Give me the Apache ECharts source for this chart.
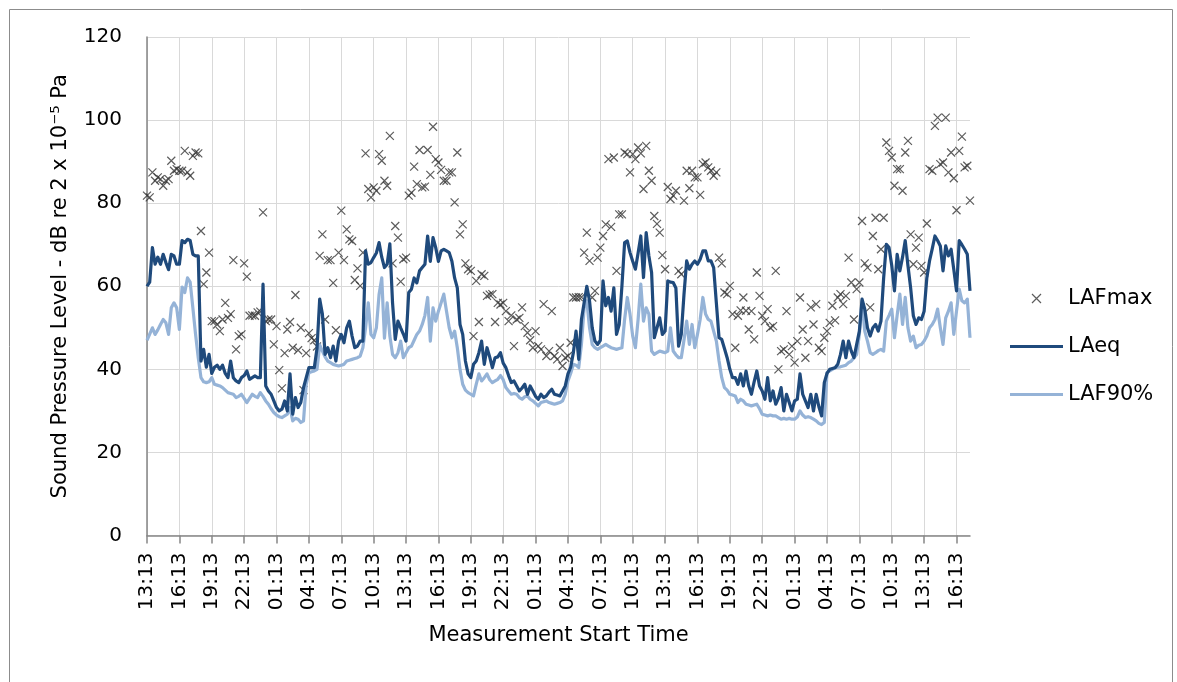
<!DOCTYPE html>
<html><head><meta charset="utf-8">
<script src="https://cdn.jsdelivr.net/npm/echarts@6/dist/echarts.min.js"></script>
<style>html,body{margin:0;padding:0;background:#fff}#c{width:1177px;height:682px}</style>
</head><body><div id="c"></div>
<script>
// Measurement start (first category) and logging step
const startTime = '13:13';
const stepMinutes = 15;

const seriesNames = ['LAFmax', 'LAeq', 'LAF90%'];

const laeq = [
  60, 61, 69.3, 65.3, 67, 65.3, 67.7, 65.7, 64, 67.7, 67.3, 65.3,
  65.3, 71, 70.5, 71.3, 71, 67.7, 67.3, 67.3, 42, 44.8, 40.5, 43.6,
  39, 40.5, 41, 40, 41, 39, 38, 42, 38, 37.2, 36.8, 38,
  38.5, 39.6, 37.6, 38, 38.4, 38, 38, 60.5, 36, 34.8, 34, 32.4,
  30.8, 30, 30.4, 32.4, 30, 38.9, 29.2, 33.2, 30.8, 32, 35.6, 38,
  40.4, 40.4, 40.4, 45, 56.9, 53.3, 43.6, 45.2, 42.8, 45.6, 42, 46.8,
  48.4, 46.4, 50, 51.6, 48, 45.2, 45.6, 46.8, 46.8, 68.5, 65.3, 65.7,
  66.9, 68, 70.5, 67, 64.5, 65.3, 70.2, 56, 47.2, 51.6, 50, 48.5,
  46.8, 58.5, 59.3, 62, 60.8, 63.7, 64.5, 65.3, 72.1, 66, 71.7, 69.3,
  66, 68.5, 68.9, 68.5, 68.1, 66, 62, 59.6, 50.8, 48.4, 42, 38.9,
  38, 41.2, 42, 44, 46.8, 41.2, 45.2, 43, 40.4, 42.8, 43, 44,
  41.5, 40.4, 38.5, 36.8, 37.2, 36, 34.8, 35.5, 36.4, 34, 36, 34.8,
  33.5, 32.8, 34, 33.2, 33.6, 34.5, 35.2, 34, 33.8, 33.6, 34.8, 36,
  38.9, 40.5, 44, 49.2, 42.4, 52, 56, 60, 56.5, 50, 46.8, 46,
  47, 61.3, 55.3, 57.3, 54, 59.6, 48.4, 50.8, 60, 70.5, 70.9, 68.1,
  66, 64.1, 68, 72.1, 62.1, 72.9, 67.3, 63.3, 47.6, 50, 52.4, 48.4,
  49.2, 61.3, 61, 60.9, 59.6, 45.6, 48.4, 58, 66.1, 64.1, 65.3, 66.1,
  65.3, 66.5, 68.5, 68.5, 66.1, 66.1, 64.5, 56, 47.6, 47.2, 45, 42.8,
  40, 38, 38, 36.4, 38.9, 36, 39.6, 36, 34, 37, 39.6, 36,
  34.8, 32.8, 38, 32.4, 34.8, 31.6, 33, 35.6, 30, 34, 32, 30,
  32.4, 32.8, 38.9, 34, 32.4, 30.8, 34, 30, 34, 31, 28.8, 36.8,
  39, 40, 40.2, 40.4, 41.2, 43.6, 46.8, 42.8, 46.8, 44.4, 42.8, 46,
  49.2, 56.9, 54.5, 50, 48, 50, 50.8, 49.2, 51.6, 62, 70.1, 69.3,
  65, 58.9, 67.7, 63.7, 67, 71, 65, 59.6, 52.9, 50.8, 52.4, 52,
  54, 62, 66.1, 69, 72.1, 71, 69.7, 63.7, 69.7, 67.3, 68.9, 64,
  58.9, 71, 70, 68.9, 67.7, 58.9
];

const laf90 = [
  47, 48.5, 50, 48.4, 49.5, 50.8, 52, 51.2, 48.4, 54.8, 56, 54.8,
  49.6, 59.8, 58.5, 62, 61, 54.8, 48.4, 42.8, 38, 37, 36.8, 37,
  38, 36.4, 36.2, 36, 35.6, 35, 34.4, 34.2, 34, 33.2, 33.5, 34,
  33, 32, 33, 34, 33.5, 33.2, 34.4, 33.5, 32.4, 31.6, 30.5, 29.6,
  29, 28.6, 28.4, 28.8, 29.2, 30.8, 27.6, 28.2, 28, 27.2, 27.6, 36.4,
  39.2, 39.4, 39.6, 40, 45.9, 44.4, 43, 42, 41.6, 41.2, 41, 40.8,
  41, 41.2, 42, 42.2, 42.4, 42.6, 42.8, 43.2, 45.2, 50, 56, 48.4,
  47.6, 50, 58, 62, 47.5, 56, 48, 43.6, 42.8, 44, 46.8, 42.8,
  44, 45.2, 45.6, 47, 48.4, 49.2, 50.8, 53, 57.3, 46.8, 54.8, 51.6,
  54, 56, 58.1, 54, 50, 47.6, 49.2, 45.2, 40, 36.4, 35, 34.4,
  34, 33.6, 36.4, 38.9, 37.2, 38, 38.9, 37.5, 36.8, 37.2, 37.6, 38.5,
  37.5, 35.6, 34.8, 34, 34.2, 34, 33.2, 32.8, 33.4, 33.6, 32.8, 32.4,
  31.8, 31.2, 32, 32.2, 32.4, 32, 31.8, 31.6, 31.8, 32, 32.4, 34,
  37.2, 39, 41.2, 41, 40.4, 46, 54.8, 56.5, 50, 46, 45.2, 44.8,
  45.2, 45.6, 46, 45.6, 45.2, 45, 44.8, 45, 45.2, 52, 57.3, 53.3,
  48, 45.2, 52, 60.5, 51.6, 54.8, 53.3, 44.4, 43.6, 44, 44.4, 44.2,
  44, 44.4, 50, 44.4, 43.5, 42.8, 42.8, 47, 51.6, 46, 50.8, 45.2,
  48.4, 52, 57.3, 53.3, 52, 51.6, 49.2, 46.8, 42, 38, 35.6, 35,
  34, 33.8, 33.6, 32, 32.8, 32.4, 31.6, 31.4, 31.2, 31.4, 31.6, 30.5,
  29.2, 29, 28.8, 29, 28.8, 28.8, 28.4, 28, 28.2, 28, 28.2, 28,
  28, 28.5, 30, 29, 28.4, 28.6, 28.4, 28, 27.6, 27, 26.7, 27.2,
  39.2, 39.6, 40, 40.4, 40.5, 40.6, 40.8, 41, 41.6, 42, 42.8, 43.6,
  48.4, 56.5, 49.2, 46.8, 44, 43.6, 44, 44.5, 44.8, 44.4, 51.6, 53,
  54.5, 47.6, 53, 58.1, 50.8, 57.3, 50, 46.8, 48, 45.2, 45.8, 46,
  46.8, 48, 50, 50.8, 52, 54.5, 50, 46, 52.4, 54, 56, 48.4,
  54, 59.3, 56.5, 56, 56.9, 47.6
];

const lafmax = [
  81.8, 81.4, 87.4, 85.4, 86.2, 85.8, 84.2, 85.4, 85.8, 90.2, 87.8, 88.2,
  87.8, 87.8, 92.6, 87.4, 86.6, 91.4, 92.2, 92, 73.3, 60.5, 63.3, 68.1,
  51.6, 51.6, 50.8, 49.2, 52, 56, 52.4, 53.3, 66.3, 44.8, 48, 48.4,
  65.5, 62.3, 52.9, 53, 52.9, 53.7, 53.9, 77.8, 51.6, 52, 52, 46,
  50.4, 39.8, 35.4, 43.9, 49.6, 51.4, 45.2, 57.9, 44.6, 50, 35, 43.9,
  48.7, 47.5, 47, 45.5, 67.3, 72.5, 52, 66.3, 66.3, 60.8, 49.4, 68.1,
  78.2, 66.3, 73.7, 71.3, 70.9, 61.5, 64.3, 60.1, 68.1, 92, 83.4, 81.4,
  83.8, 83, 91.8, 90.2, 85.4, 84.2, 96.2, 65.5, 74.5, 71.7, 61.1, 66.5,
  66.9, 81.8, 82.5, 88.8, 84.6, 92.8, 83.8, 84, 92.8, 86.8, 98.4, 90.6,
  89.8, 88, 85.4, 85.4, 87.4, 87.4, 80.2, 92.2, 72.5, 74.9, 65.5, 64.1,
  63.7, 48, 61.3, 51.4, 62.9, 62.5, 57.7, 58, 58.1, 51.4, 56, 55.6,
  56, 54, 51.6, 53, 45.6, 52, 52.4, 54.9, 50.4, 48.8, 47, 45.2,
  49.2, 45.6, 44.8, 55.7, 43.2, 44.4, 54, 43.2, 42.4, 45.2, 40.8, 42.8,
  43.2, 46.4, 57.3, 57.3, 57.4, 57.4, 68.1, 72.9, 66.1, 57.3, 58.9, 66.9,
  69.3, 72.1, 74.9, 90.6, 74.3, 91, 63.7, 77.3, 77.3, 92.2, 91.8, 87.4,
  91.8, 90.6, 93.4, 92, 83.4, 93.8, 87.8, 85.4, 76.9, 75, 72.9, 67.5,
  64.1, 83.9, 81, 81.8, 83, 63.7, 62.9, 80.6, 87.8, 83.6, 87.8, 86.2,
  86.2, 82, 89.4, 89.8, 88.6, 87.8, 86.6, 87.4, 66.9, 65.5, 58.5, 58.1,
  60.1, 53.3, 45.2, 52.9, 54.2, 57.3, 54.1, 49.6, 54, 47.2, 63.3, 57.7,
  52.9, 51.6, 54.5, 50, 50.4, 63.7, 40, 44.4, 44.8, 54, 43.6, 45.6,
  41.6, 46.8, 57.3, 49.6, 42.8, 46.8, 54.9, 50.8, 55.7, 45.2, 44.4, 47.6,
  49.2, 51.2, 55.3, 51.8, 57.3, 58.1, 55.7, 57.7, 66.9, 60.9, 52, 59.3,
  60.9, 75.7, 65.5, 64.5, 54.9, 72.1, 76.5, 64.1, 68.9, 76.5, 94.6, 92.6,
  91, 84.2, 88.2, 88.2, 83, 92.2, 95, 72.5, 65.3, 69.3, 71.7, 64.9,
  63.3, 75.1, 88.2, 87.8, 98.6, 100.6, 89.4, 89.8, 100.6, 87.4, 92.2, 86,
  78.3, 92.6, 96, 88.6, 89, 80.6
];

// category labels: one per logging interval (HH:MM)
function pad(n) { return (n < 10 ? '0' : '') + n; }
const startMin = parseInt(startTime.slice(0, 2)) * 60 + parseInt(startTime.slice(3));
const categories = laeq.map(function (_, i) {
  const t = startMin + i * stepMinutes;
  return pad(Math.floor(t / 60) % 24) + ':' + pad(t % 60);
});

const FONT = '"DejaVu Sans", Verdana, sans-serif';
const AXIS_COLOR = '#868686';
const GRID_COLOR = '#d9d9d9';
const DARK = '#1F4A7C';
const LIGHT = '#95B3D7';
const CROSS = 'path://M0,0L10,10M10,0L0,10';
const BAR_ICON = 'path://M0,0H53V3.2H0Z';

const chart = echarts.init(document.getElementById('c'), null, { renderer: 'canvas' });
chart.setOption({
  animation: false,
  backgroundColor: '#ffffff',
  textStyle: { fontFamily: FONT },
  graphic: [{
    type: 'rect', left: 7, top: 7, silent: true,
    shape: { width: 1163, height: 700 },
    style: { fill: 'none', stroke: '#8c8c8c', lineWidth: 1 }
  }],
  grid: { left: 147, right: 207, top: 37, bottom: 146.5 },
  legend: {
    orient: 'vertical', left: 1010, top: 288, padding: 0,
    itemWidth: 53, itemHeight: 9, itemGap: 27,
    textStyle: { fontSize: 21, color: '#000', fontFamily: FONT },
    data: [
      { name: 'LAFmax', icon: CROSS, itemStyle: { color: 'transparent', borderColor: '#333333', borderWidth: 1.2 } },
      { name: 'LAeq', icon: BAR_ICON, itemStyle: { color: DARK, borderWidth: 0 } },
      { name: 'LAF90%', icon: BAR_ICON, itemStyle: { color: LIGHT, borderWidth: 0 } }
    ]
  },
  xAxis: {
    type: 'category', data: categories, boundaryGap: false,
    name: 'Measurement Start Time', nameLocation: 'middle', nameGap: 90,
    nameTextStyle: { fontSize: 21, color: '#000', fontFamily: FONT },
    axisLine: { lineStyle: { color: AXIS_COLOR, width: 1.5 } },
    axisTick: { show: true, interval: 11, length: 8, lineStyle: { color: AXIS_COLOR, width: 1.5 } },
    axisLabel: { interval: 11, rotate: 90, fontSize: 20, color: '#000', margin: 17, fontFamily: FONT },
    splitLine: { show: true, interval: 11, lineStyle: { color: GRID_COLOR, width: 1 } }
  },
  yAxis: {
    type: 'value', min: 0, max: 120, interval: 20,
    name: 'Sound Pressure Level - dB re 2 x 10\u207B\u2075 Pa', nameLocation: 'middle', nameGap: 76,
    nameTextStyle: { fontSize: 21, color: '#000', fontFamily: FONT },
    axisLine: { show: true, lineStyle: { color: AXIS_COLOR, width: 1.5 } },
    axisTick: { show: false },
    axisLabel: { fontSize: 20, color: '#000', margin: 25, fontFamily: FONT },
    splitLine: { lineStyle: { color: GRID_COLOR, width: 1 } }
  },
  series: [
    {
      name: seriesNames[0], type: 'scatter', data: lafmax, z: 2,
      symbol: CROSS, symbolSize: 8,
      itemStyle: { color: 'transparent', borderColor: '#333333', borderWidth: 1.2 },
      emphasis: { disabled: true }
    },
    {
      name: seriesNames[2], type: 'line', data: laf90, z: 3,
      symbol: 'none', smooth: false,
      lineStyle: { color: LIGHT, width: 3.2, join: 'round' },
      itemStyle: { color: LIGHT },
      emphasis: { disabled: true }
    },
    {
      name: seriesNames[1], type: 'line', data: laeq, z: 4,
      symbol: 'none', smooth: false,
      lineStyle: { color: DARK, width: 3.2, join: 'round' },
      itemStyle: { color: DARK },
      emphasis: { disabled: true }
    }
  ]
});
</script>
</body></html>
